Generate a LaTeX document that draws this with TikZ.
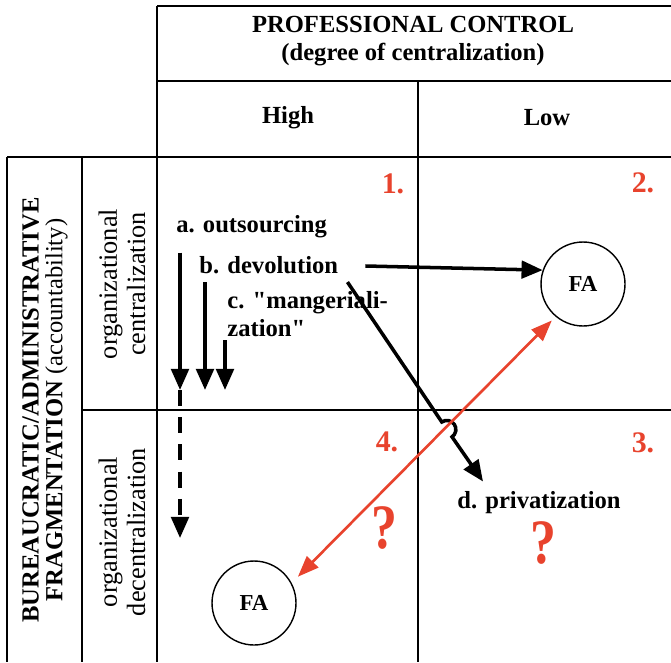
\documentclass[tikz,border=0pt]{standalone}
\usepackage{fontspec}
\setmainfont{Liberation Serif}[Ligatures=TeXOff]
\usepackage{xcolor}
\definecolor{e8432d}{HTML}{E8432D}
\usepackage{tikz}
\usetikzlibrary{arrows.meta}

\begin{document}
\begin{tikzpicture}[x=0.02cm, y=-0.02cm,
    grid/.style={line width=1pt},
    lbl/.style={inner sep=0pt, font=\fontsize{14}{16}\selectfont\bfseries},
    side/.style={inner sep=0pt, rotate=90, align=center},
    num/.style={inner sep=0pt, color=e8432d, font=\fontsize{17}{18}\selectfont\bfseries},
    qmark/.style={inner sep=0pt, color=e8432d, xscale=0.82, font=\fontsize{36}{36}\selectfont\bfseries},
    fa/.style={circle, draw, line width=0.8pt, minimum size=1.68cm, inner sep=0pt, font=\fontsize{13}{15}\selectfont\bfseries},
    blk/.style={line width=2pt, -{Triangle[length=12pt, width=10pt]}},
    rd/.style={color=e8432d, line width=1.5pt, {Triangle[length=12pt, width=9pt]}-{Triangle[length=12pt, width=9pt]}}]
                        \useasboundingbox (0,0) rectangle (671,662);

                        % table
                        \draw[grid] (157,6) -- (671,6);
                        \draw[grid] (157,81) -- (671,81);
                        \draw[grid] (7,157) -- (671,157);
                        \draw[grid] (82,410) -- (671,410);
                        \draw[grid] (7,157) -- (7,662);
                        \draw[grid] (82,157) -- (82,662);
                        \draw[grid] (157,6) -- (157,662);
                        \draw[grid] (418,81) -- (418,662);

                        \node (title) at (413, 41) [lbl, align=center] {PROFESSIONAL CONTROL\\(degree of centralization)};
                        \node (high) at (288, 118) [lbl] {High};
                        \node (low) at (547, 118) [lbl] {Low};

                        \node (bureau) at (45, 410) [side, font=\fontsize{14}{13.5}\selectfont] {\textbf{BUREAUCRATIC/ADMINISTRATIVE}\\\textbf{FRAGMENTATION} (accountability)};
                        \node (orgcen) at (122, 284) [side, font=\fontsize{15}{16}\selectfont] {organizational\\centralization};
                        \node (orgdec) at (122, 532) [side, font=\fontsize{15}{16}\selectfont] {organizational\\decentralization};

                        \node (q1) at (393, 184) [num] {1.};
                        \node (q2) at (643, 183) [num] {2.};
                        \node (q3) at (643, 443) [num] {3.};
                        \node (q4) at (387, 442) [num] {4.};

                        \node (outsrc) at (176, 227) [lbl, anchor=west] {a. outsourcing};
                        \node (devol) at (199, 265) [lbl, anchor=west] {b. devolution};
                        \node (manag) at (227, 314) [lbl, anchor=west, align=left] {c. "mangeriali-\\zation"};
                        \node (priv) at (457, 503) [lbl, anchor=west] {d. privatization};

                        \node (faTop) at (583, 284) [fa] {FA};
                        \node (faBot) at (254, 603) [fa] {FA};

                        \node (qm1) at (384, 528) [qmark] {?};
                        \node (qm2) at (543, 543) [qmark] {?};

                        \coordinate (aTip) at (180, 390);
                        \coordinate (bTip) at (205, 390);
                        \coordinate (cTip) at (225, 390);
                        \coordinate (aDash) at (180, 538);
                        \coordinate (hopA) at (441.8, 422.0);

                        \draw[blk] ([shift={(4,14)}]outsrc.south west) -- (aTip);
                        \draw[blk] ([shift={(6,8)}]devol.south west) -- (bTip);
                        \draw[blk] ([shift={(-2,3)}]manag.south west) -- (cTip);
                        \draw[blk, dash pattern=on 9pt off 6.5pt] (aTip) -- (aDash);

                        \draw[blk] ([shift={(27,1)}]devol.east) -- (faTop.161);
                        \draw[blk] ([shift={(9,8)}]devol.south east) -- (hopA)
                            arc[start angle=235.5, end angle=415.5, radius=9] -- ([shift={(26,-10)}]priv.north west);

                        \draw[rd, shorten <=5pt, shorten >=3pt] (faBot.28) -- (faTop.230);
                    \end{tikzpicture}
\end{document}
